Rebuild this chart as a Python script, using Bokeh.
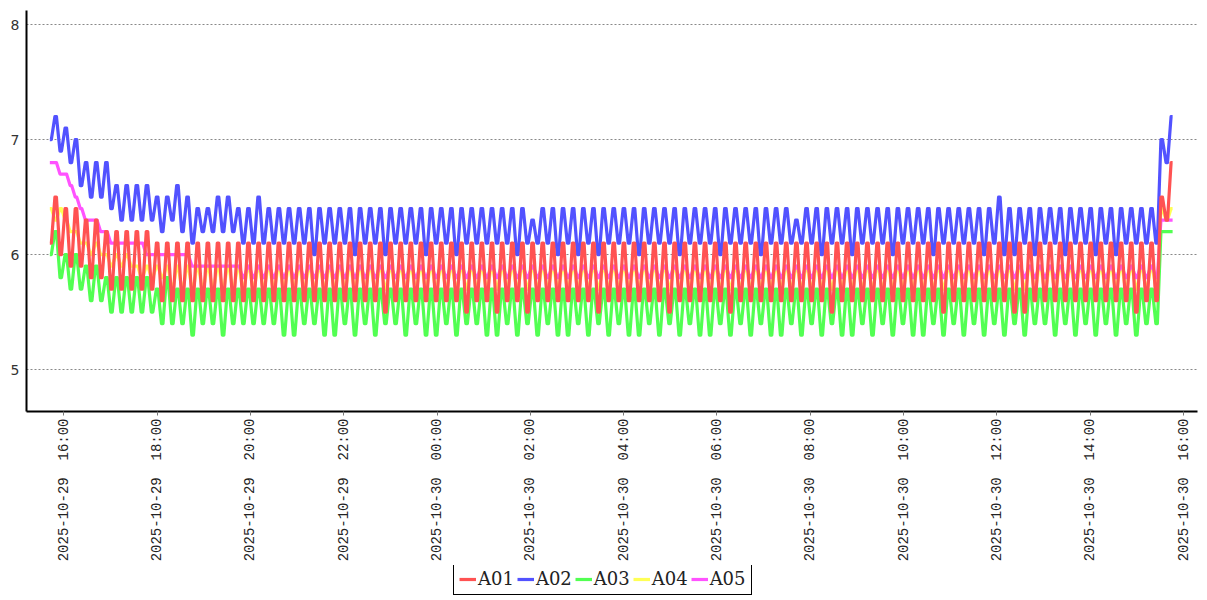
import math
import pandas as pd
from bokeh.plotting import figure
from bokeh.layouts import column
from bokeh.models import (Range1d, FixedTicker, DatetimeTickFormatter, Legend,
                          LegendItem, ColumnDataSource)
from bokeh.embed import file_html
from bokeh.resources import INLINE

# ---------------- data ----------------
series_names = ["A01", "A02", "A03", "A04", "A05"]
series_colors = ["#ff5252", "#5252ff", "#52ff52", "#ffff55", "#ff52ff"]

t_first = "2025-10-29 15:43"
t_last = "2025-10-30 15:45"

x_min = "2025-10-29 15:12"
x_max = "2025-10-30 16:18"
y_min = 4.635
y_max = 8.122

tick_times = ["2025-10-29 16:00", "2025-10-29 18:00", "2025-10-29 20:00",
              "2025-10-29 22:00", "2025-10-30 00:00", "2025-10-30 02:00",
              "2025-10-30 04:00", "2025-10-30 06:00", "2025-10-30 08:00",
              "2025-10-30 10:00", "2025-10-30 12:00", "2025-10-30 14:00",
              "2025-10-30 16:00"]
y_ticks = [5, 6, 7, 8]

a01 = [6.1, 6.5, 6.0, 6.4, 5.9, 6.4, 5.9, 6.3, 5.8, 6.3,
       5.8, 6.2, 5.7, 6.2, 5.7, 6.2, 5.7, 6.2, 5.7, 6.2,
       5.7, 6.1, 5.6, 6.1, 5.6, 6.1, 5.6, 6.1, 5.6, 6.1,
       5.6, 6.1, 5.6, 6.1, 5.6, 6.1, 5.6, 6.1, 5.6, 6.1,
       5.6, 6.1, 5.6, 6.1, 5.6, 6.1, 5.6, 6.1, 5.6, 6.1,
       5.6, 6.1, 5.6, 6.1, 5.6, 6.1, 5.6, 6.1, 5.6, 6.1,
       5.6, 6.1, 5.6, 6.1, 5.6, 6.1, 5.5, 6.1, 5.6, 6.1,
       5.6, 6.1, 5.6, 6.1, 5.6, 6.1, 5.6, 6.1, 5.6, 6.1,
       5.6, 6.1, 5.5, 6.1, 5.6, 6.1, 5.6, 6.1, 5.5, 6.1,
       5.6, 6.1, 5.6, 6.1, 5.5, 6.1, 5.6, 6.1, 5.6, 6.1,
       5.6, 6.1, 5.6, 6.1, 5.6, 6.1, 5.6, 6.1, 5.5, 6.1,
       5.6, 6.1, 5.6, 6.1, 5.6, 6.1, 5.6, 6.1, 5.6, 6.1,
       5.6, 6.1, 5.5, 6.1, 5.6, 6.1, 5.6, 6.1, 5.6, 6.1,
       5.6, 6.1, 5.6, 6.1, 5.5, 6.1, 5.6, 6.1, 5.6, 6.1,
       5.6, 6.1, 5.6, 6.1, 5.6, 6.1, 5.6, 6.1, 5.6, 6.1,
       5.6, 6.1, 5.6, 6.1, 5.5, 6.1, 5.6, 6.1, 5.6, 6.1,
       5.6, 6.1, 5.6, 6.1, 5.6, 6.1, 5.6, 6.1, 5.6, 6.1,
       5.6, 6.1, 5.6, 6.1, 5.6, 6.1, 5.5, 6.1, 5.6, 6.1,
       5.6, 6.1, 5.6, 6.1, 5.6, 6.1, 5.6, 6.1, 5.6, 6.1,
       5.5, 6.1, 5.5, 6.1, 5.6, 6.1, 5.6, 6.1, 5.6, 6.1,
       5.6, 6.1, 5.6, 6.1, 5.6, 6.1, 5.6, 6.1, 5.6, 6.1,
       5.6, 6.1, 5.6, 6.1, 5.5, 6.1, 5.6, 6.1, 5.6, 6.5,
       6.3, 6.8]

a02 = [7.0, 7.2, 6.9, 7.1, 6.8, 7.0, 6.6, 6.8, 6.5, 6.8,
       6.5, 6.8, 6.4, 6.6, 6.3, 6.6, 6.3, 6.6, 6.3, 6.6,
       6.3, 6.5, 6.2, 6.5, 6.3, 6.6, 6.2, 6.5, 6.1, 6.4,
       6.2, 6.4, 6.2, 6.5, 6.2, 6.5, 6.2, 6.4, 6.1, 6.4,
       6.1, 6.5, 6.1, 6.4, 6.1, 6.4, 6.1, 6.4, 6.1, 6.4,
       6.1, 6.4, 6.0, 6.4, 6.1, 6.4, 6.1, 6.4, 6.1, 6.4,
       6.0, 6.4, 6.1, 6.4, 6.1, 6.4, 6.0, 6.4, 6.1, 6.4,
       6.1, 6.4, 6.1, 6.4, 6.0, 6.4, 6.1, 6.4, 6.1, 6.4,
       6.0, 6.4, 6.1, 6.4, 6.1, 6.4, 6.1, 6.4, 6.1, 6.4,
       6.1, 6.4, 6.0, 6.4, 6.1, 6.3, 6.1, 6.4, 6.1, 6.4,
       6.0, 6.4, 6.1, 6.4, 6.0, 6.4, 6.1, 6.4, 6.0, 6.4,
       6.1, 6.4, 6.1, 6.4, 6.1, 6.4, 6.0, 6.4, 6.1, 6.4,
       6.1, 6.4, 6.1, 6.4, 6.0, 6.4, 6.1, 6.4, 6.1, 6.4,
       6.1, 6.4, 6.0, 6.4, 6.1, 6.4, 6.1, 6.4, 6.1, 6.4,
       6.0, 6.4, 6.1, 6.4, 6.1, 6.4, 6.1, 6.3, 6.1, 6.4,
       6.1, 6.4, 6.0, 6.4, 6.1, 6.4, 6.1, 6.4, 6.0, 6.4,
       6.1, 6.4, 6.1, 6.4, 6.1, 6.4, 6.0, 6.4, 6.1, 6.4,
       6.1, 6.4, 6.1, 6.4, 6.0, 6.4, 6.1, 6.4, 6.1, 6.4,
       6.1, 6.4, 6.1, 6.4, 6.0, 6.4, 6.1, 6.5, 6.0, 6.4,
       6.0, 6.4, 6.1, 6.4, 6.0, 6.4, 6.1, 6.4, 6.1, 6.4,
       6.0, 6.4, 6.1, 6.4, 6.1, 6.4, 6.0, 6.4, 6.1, 6.4,
       6.0, 6.4, 6.1, 6.4, 6.1, 6.4, 6.1, 6.4, 6.1, 7.0,
       6.8, 7.2]

a03 = [6.0, 6.2, 5.8, 6.0, 5.7, 6.0, 5.7, 5.9, 5.6, 5.9,
       5.6, 5.8, 5.5, 5.8, 5.5, 5.8, 5.5, 5.8, 5.5, 5.8,
       5.5, 5.7, 5.4, 5.8, 5.4, 5.7, 5.4, 5.7, 5.3, 5.7,
       5.4, 5.7, 5.4, 5.7, 5.3, 5.7, 5.4, 5.7, 5.4, 5.7,
       5.4, 5.7, 5.4, 5.7, 5.4, 5.7, 5.3, 5.7, 5.3, 5.7,
       5.4, 5.7, 5.4, 5.7, 5.3, 5.7, 5.3, 5.7, 5.4, 5.7,
       5.3, 5.7, 5.4, 5.7, 5.3, 5.7, 5.4, 5.7, 5.4, 5.7,
       5.3, 5.7, 5.4, 5.7, 5.3, 5.7, 5.3, 5.7, 5.4, 5.7,
       5.3, 5.7, 5.4, 5.7, 5.4, 5.7, 5.3, 5.7, 5.3, 5.7,
       5.4, 5.7, 5.3, 5.7, 5.4, 5.7, 5.3, 5.7, 5.4, 5.7,
       5.3, 5.7, 5.3, 5.7, 5.4, 5.7, 5.3, 5.7, 5.4, 5.7,
       5.3, 5.7, 5.4, 5.7, 5.3, 5.7, 5.3, 5.7, 5.4, 5.7,
       5.3, 5.7, 5.4, 5.7, 5.3, 5.7, 5.4, 5.7, 5.3, 5.7,
       5.3, 5.7, 5.4, 5.7, 5.3, 5.7, 5.4, 5.7, 5.3, 5.7,
       5.4, 5.7, 5.3, 5.7, 5.3, 5.7, 5.4, 5.7, 5.3, 5.7,
       5.4, 5.7, 5.3, 5.7, 5.4, 5.7, 5.3, 5.7, 5.3, 5.7,
       5.4, 5.7, 5.3, 5.7, 5.4, 5.7, 5.3, 5.7, 5.4, 5.7,
       5.3, 5.7, 5.3, 5.7, 5.4, 5.7, 5.3, 5.7, 5.4, 5.7,
       5.3, 5.7, 5.4, 5.7, 5.3, 5.7, 5.4, 5.7, 5.3, 5.7,
       5.4, 5.7, 5.3, 5.7, 5.4, 5.7, 5.4, 5.7, 5.3, 5.7,
       5.4, 5.7, 5.3, 5.7, 5.4, 5.7, 5.3, 5.7, 5.4, 5.7,
       5.3, 5.7, 5.4, 5.7, 5.3, 5.7, 5.4, 5.7, 5.4, 6.2,
       6.2, 6.2]

a04 = [6.4, 6.3, 6.4, 6.3, 6.2, 6.2, 6.1, 6.1, 6.0, 6.1,
       6.0, 6.0, 5.9, 6.0, 5.9, 6.0, 5.9, 5.9, 5.8, 5.9,
       5.8, 5.9, 5.8, 5.9, 5.7, 5.9, 5.7, 5.9, 5.7, 5.9,
       5.7, 5.9, 5.7, 5.9, 5.7, 5.9, 5.7, 5.9, 5.7, 5.9,
       5.7, 5.9, 5.7, 5.9, 5.7, 5.9, 5.7, 5.9, 5.7, 5.9,
       5.7, 5.9, 5.7, 5.9, 5.7, 5.9, 5.7, 5.9, 5.7, 5.9,
       5.7, 5.9, 5.7, 5.9, 5.7, 5.9, 5.7, 5.9, 5.7, 5.9,
       5.7, 5.9, 5.7, 5.9, 5.7, 5.9, 5.7, 5.9, 5.7, 5.9,
       5.7, 5.9, 5.7, 5.9, 5.7, 5.9, 5.7, 5.9, 5.7, 5.9,
       5.7, 5.9, 5.7, 5.9, 5.7, 5.9, 5.7, 5.9, 5.7, 5.9,
       5.7, 5.9, 5.7, 5.9, 5.7, 5.9, 5.7, 5.9, 5.7, 5.9,
       5.7, 5.9, 5.7, 5.9, 5.7, 5.9, 5.7, 5.9, 5.7, 5.9,
       5.7, 5.9, 5.7, 5.9, 5.7, 5.9, 5.7, 5.9, 5.7, 5.9,
       5.7, 5.9, 5.7, 5.9, 5.7, 5.9, 5.7, 5.9, 5.7, 5.9,
       5.7, 5.9, 5.7, 5.9, 5.7, 5.9, 5.7, 5.9, 5.7, 5.9,
       5.7, 5.9, 5.7, 5.9, 5.7, 5.9, 5.7, 5.9, 5.7, 5.9,
       5.7, 5.9, 5.7, 5.9, 5.7, 5.9, 5.7, 5.9, 5.7, 5.9,
       5.7, 5.9, 5.7, 5.9, 5.7, 5.9, 5.7, 5.9, 5.7, 5.9,
       5.7, 5.9, 5.7, 5.9, 5.7, 5.9, 5.7, 5.9, 5.7, 5.9,
       5.7, 5.9, 5.7, 5.9, 5.7, 5.9, 5.7, 5.9, 5.7, 5.9,
       5.7, 5.9, 5.7, 5.9, 5.7, 5.9, 5.7, 5.9, 5.7, 5.9,
       5.7, 5.9, 5.7, 5.9, 5.7, 5.9, 5.7, 5.9, 5.7, 6.4,
       6.3, 6.4]

a05 = [6.8, 6.8, 6.7, 6.7, 6.6, 6.5, 6.4, 6.3, 6.3, 6.3,
       6.2, 6.2, 6.1, 6.1, 6.1, 6.1, 6.1, 6.1, 6.1, 6.0,
       6.0, 6.0, 6.0, 6.0, 6.0, 6.0, 6.0, 6.0, 5.9, 5.9,
       5.9, 5.9, 5.9, 5.9, 5.9, 5.9, 5.9, 5.9, 5.8, 5.9,
       5.8, 5.9, 5.8, 5.9, 5.8, 5.9, 5.8, 5.9, 5.8, 5.9,
       5.8, 5.9, 5.8, 5.9, 5.8, 5.9, 5.8, 5.9, 5.8, 5.9,
       5.8, 5.9, 5.8, 5.9, 5.8, 5.9, 5.8, 5.9, 5.8, 5.9,
       5.8, 5.9, 5.8, 5.9, 5.8, 5.9, 5.8, 5.9, 5.8, 5.9,
       5.8, 5.9, 5.8, 5.9, 5.8, 5.9, 5.8, 5.9, 5.8, 5.9,
       5.8, 5.9, 5.8, 5.9, 5.8, 5.9, 5.8, 5.9, 5.8, 5.9,
       5.8, 5.9, 5.8, 5.9, 5.8, 5.9, 5.8, 5.9, 5.8, 5.9,
       5.8, 5.9, 5.8, 5.9, 5.8, 5.9, 5.8, 5.9, 5.8, 5.9,
       5.8, 5.9, 5.8, 5.9, 5.8, 5.9, 5.8, 5.9, 5.8, 5.9,
       5.8, 5.9, 5.8, 5.9, 5.8, 5.9, 5.8, 5.9, 5.8, 5.9,
       5.8, 5.9, 5.8, 5.9, 5.8, 5.9, 5.8, 5.9, 5.8, 5.9,
       5.8, 5.9, 5.8, 5.9, 5.8, 5.9, 5.8, 5.9, 5.8, 5.9,
       5.8, 5.9, 5.8, 5.9, 5.8, 5.9, 5.8, 5.9, 5.8, 5.9,
       5.8, 5.9, 5.8, 5.9, 5.8, 5.9, 5.8, 5.9, 5.8, 5.9,
       5.8, 5.9, 5.8, 5.9, 5.8, 5.9, 5.8, 5.9, 5.8, 5.9,
       5.8, 5.9, 5.8, 5.9, 5.8, 5.9, 5.8, 5.9, 5.8, 5.9,
       5.8, 5.9, 5.8, 5.9, 5.8, 5.9, 5.8, 5.9, 5.8, 5.9,
       5.8, 5.9, 5.8, 5.9, 5.8, 5.9, 5.8, 5.9, 5.8, 6.3,
       6.3, 6.3]

# ---------------- build the chart ----------------
series_values = [a01, a02, a03, a04, a05]
n = len(a01)
assert all(len(v) == n for v in series_values)
times = pd.date_range(t_first, t_last, periods=n)

# each reading is held briefly (flat tops / bottoms as in the source chart)
step = (times[1] - times[0])
hold = step * 0.15
t_exp = []
for t in times:
    t_exp.extend([t - hold, t + hold])
data = {"t": t_exp}
for name, vals in zip(series_names, series_values):
    v_exp = []
    for v in vals:
        v_exp.extend([v, v])
    data[name] = v_exp
source = ColumnDataSource(data)

p = figure(width=1207, height=565, x_axis_type="datetime",
           x_range=Range1d(pd.Timestamp(x_min), pd.Timestamp(x_max)),
           y_range=Range1d(y_min, y_max),
           output_backend="svg", toolbar_location=None,
           min_border_left=26, min_border_right=10, min_border_top=10,
           min_border_bottom=154)
p.outline_line_color = None
p.background_fill_color = "white"

# drawing order: A04 lowest, then A05, A03, A02, and A01 on top
draw_order = ["A04", "A05", "A03", "A02", "A01"]
color_of = dict(zip(series_names, series_colors))
for name in draw_order:
    p.line("t", name, source=source, line_color=color_of[name],
           line_width=3.2, line_join="round")

# axes
fmt = "%Y-%m-%d \u00a0%H:%M"
p.xaxis.ticker = FixedTicker(ticks=[pd.Timestamp(t).value // 10**6 for t in tick_times])
p.xaxis.formatter = DatetimeTickFormatter(
    microseconds=fmt, milliseconds=fmt, seconds=fmt, minsec=fmt, minutes=fmt,
    hourmin=fmt, hours=fmt, days=fmt, months=fmt, years=fmt)
p.xaxis.major_label_orientation = math.pi / 2
p.xaxis.major_label_text_font = "Liberation Mono"
p.xaxis.major_label_text_font_size = "14px"
p.xaxis.major_label_text_color = "#222222"
p.xaxis.major_label_standoff = 3
p.xaxis.major_tick_out = 4
p.xaxis.major_tick_in = 0
p.xaxis.major_tick_line_color = "#777777"
p.xaxis.minor_tick_out = 0
p.xaxis.minor_tick_in = 0
p.xaxis.axis_line_color = "black"
p.xaxis.axis_line_width = 2

p.yaxis.ticker = FixedTicker(ticks=y_ticks)
p.yaxis.major_tick_out = 0
p.yaxis.major_tick_in = 0
p.yaxis.minor_tick_out = 0
p.yaxis.minor_tick_in = 0
p.yaxis.major_label_text_font = "DejaVu Sans"
p.yaxis.major_label_text_font_size = "14px"
p.yaxis.major_label_text_color = "#333333"
p.yaxis.major_label_standoff = 7
p.yaxis.axis_line_color = "black"
p.yaxis.axis_line_width = 2

p.xgrid.grid_line_color = None
p.ygrid.ticker = FixedTicker(ticks=y_ticks)
p.ygrid.grid_line_color = "#888888"
p.ygrid.grid_line_dash = "2 2"
p.ygrid.grid_line_width = 1

# legend strip underneath the chart (its own small figure, same series styling;
# its sample lines lie outside the strip's ranges, so only the legend shows)
pl = figure(width=1207, height=35, x_axis_type=None, y_axis_type=None,
            output_backend="svg", toolbar_location=None,
            min_border=0, x_range=Range1d(0, 1), y_range=Range1d(0, 1))
pl.outline_line_color = None
pl.xgrid.grid_line_color = None
pl.ygrid.grid_line_color = None
legend_renderers = {}
for name in series_names:
    legend_renderers[name] = pl.line(x=[-5, -4], y=[-5, -5], line_color=color_of[name],
                                     line_width=3.2)

legend = Legend(
    items=[LegendItem(label=name, renderers=[legend_renderers[name]]) for name in series_names],
    orientation="horizontal", location=(427, 5),
    border_line_color="black", border_line_width=1, border_line_alpha=1,
    label_text_font="DejaVu Serif", label_text_font_size="18px",
    label_text_color="#222222",
    glyph_width=17, glyph_height=20, label_height=20,
    label_standoff=2, spacing=3, padding=5, margin=0,
    background_fill_color="white", background_fill_alpha=1)
pl.add_layout(legend, "center")

page = column(p, pl, spacing=0)
open("out.html", "w").write(file_html(page, INLINE))
